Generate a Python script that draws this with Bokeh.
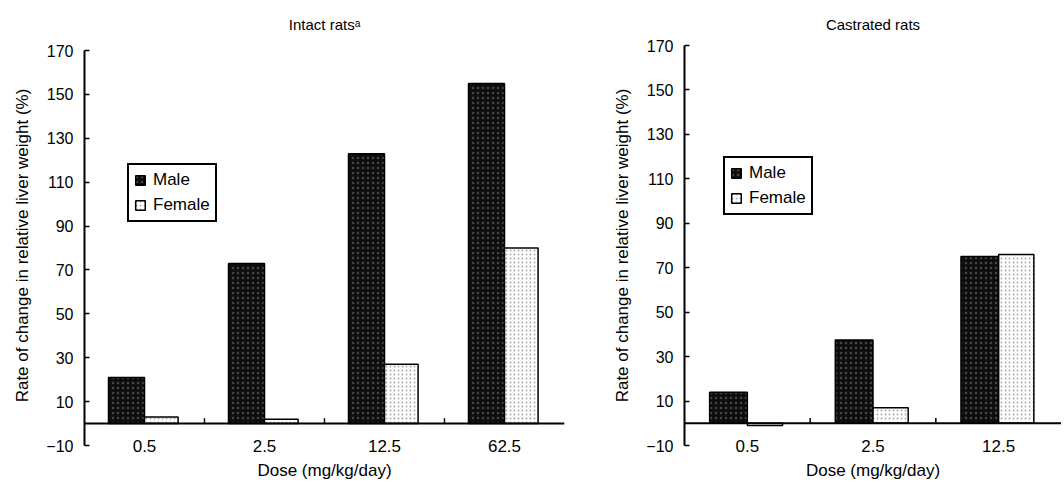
from bokeh.plotting import figure
from bokeh.models import (FactorRange, Range1d, FixedTicker, Legend, LegendItem,
                          Span, Title, ColumnDataSource)
from bokeh.transform import dodge
from bokeh.layouts import row
from bokeh.embed import file_html
from bokeh.resources import INLINE

FONT = "Liberation Sans"

# ---- data ----
intact_doses = ["0.5", "2.5", "12.5", "62.5"]
intact_male = [21, 73, 123, 155]
intact_female = [3, 2, 27, 80]

castrated_doses = ["0.5", "2.5", "12.5"]
castrated_male = [14, 37.5, 75]
castrated_female = [-1, 7, 76]

y_ticks = [-10, 10, 30, 50, 70, 90, 110, 130, 150, 170]
y_label = "Rate of change in relative liver weight (%)"
x_label = "Dose (mg/kg/day)"


def make_panel(title, doses, male, female, width, b_left, b_right,
               title_standoff, legend_xy, y_end):
    src = ColumnDataSource(dict(dose=doses, male=male, female=female))
    p = figure(x_range=FactorRange(factors=doses), y_range=Range1d(-10, y_end),
               width=width, height=483, output_backend="svg",
               toolbar_location=None, min_border_left=b_left,
               min_border_right=b_right, min_border_top=44,
               min_border_bottom=38)
    p.outline_line_color = None
    p.grid.visible = False
    p.background_fill_color = "white"
    p.border_fill_color = "white"

    m = p.vbar(x=dodge("dose", -0.15, range=p.x_range), top="male", bottom=0,
               width=0.30, source=src, fill_color="#0e0e0e",
               hatch_pattern=".", hatch_color="#8a8a8a", hatch_scale=5,
               hatch_alpha=0.45, line_color="black", line_width=1.5)
    f = p.vbar(x=dodge("dose", 0.14, range=p.x_range), top="female", bottom=0,
               width=0.28, source=src, fill_color="white",
               hatch_pattern=".", hatch_color="#444444", hatch_scale=4,
               hatch_alpha=0.45, line_color="black", line_width=1.5)

    # zero line acting as the x axis line
    p.add_layout(Span(location=0, dimension="width", line_color="black",
                      line_width=2))
    # boundary ticks between categories on the zero line
    bounds = list(range(1, len(doses)))
    p.segment(x0=bounds, y0=[0] * len(bounds), x1=bounds, y1=[2.4] * len(bounds),
              line_color="black", line_width=1.5)

    xa = p.xaxis[0]
    xa.axis_line_color = None
    xa.major_tick_line_color = None
    xa.major_tick_in = 0
    xa.major_tick_out = 0
    xa.major_label_standoff = -6
    xa.major_label_text_font = FONT
    xa.major_label_text_font_size = "17px"
    xa.major_label_text_color = "black"
    xa.axis_label = x_label
    xa.axis_label_standoff = 6
    xa.axis_label_text_font = FONT
    xa.axis_label_text_font_size = "17px"
    xa.axis_label_text_line_height = 1.0
    xa.axis_label_text_font_style = "normal"
    xa.axis_label_text_color = "black"

    ya = p.yaxis[0]
    ya.ticker = FixedTicker(ticks=y_ticks)
    ya.bounds = (y_ticks[0], y_ticks[-1])
    ya.major_label_overrides = {-10: "\u221210"}
    ya.axis_line_width = 2
    ya.major_tick_in = 5
    ya.major_tick_out = 0
    ya.major_tick_line_width = 1.5
    ya.minor_tick_line_color = None
    ya.major_label_standoff = 11
    ya.major_label_text_font = FONT
    ya.major_label_text_font_size = "16px"
    ya.major_label_text_color = "black"
    ya.axis_label = y_label
    ya.axis_label_text_font = FONT
    ya.axis_label_text_font_size = "17px"
    ya.axis_label_text_font_style = "normal"
    ya.axis_label_text_color = "black"
    ya.axis_label_standoff = 11

    p.title = Title(text=title, align="center", text_font=FONT,
                    text_font_size="15px", text_font_style="normal",
                    text_color="black", standoff=title_standoff)

    legend = Legend(items=[LegendItem(label="Male", renderers=[m]),
                           LegendItem(label="Female", renderers=[f])],
                    location=legend_xy, border_line_color="black",
                    border_line_alpha=1, border_line_width=2, padding=5,
                    spacing=5, glyph_width=12, glyph_height=12,
                    label_height=16, label_standoff=7, label_text_font=FONT,
                    label_text_font_size="17px", label_text_color="black",
                    margin=0, background_fill_alpha=1)
    p.add_layout(legend)
    return p


left = make_panel("Intact rats\u1d43", intact_doses, intact_male, intact_female,
                  width=603, b_left=84, b_right=39, title_standoff=26,
                  legend_xy=(43, 223), y_end=172.3)
right = make_panel("Castrated rats", castrated_doses, castrated_male,
                   castrated_female, width=458, b_left=81, b_right=0,
                   title_standoff=26, legend_xy=(39, 230), y_end=170)

layout = row(left, right)
open("out.html", "w").write(file_html(layout, INLINE))
